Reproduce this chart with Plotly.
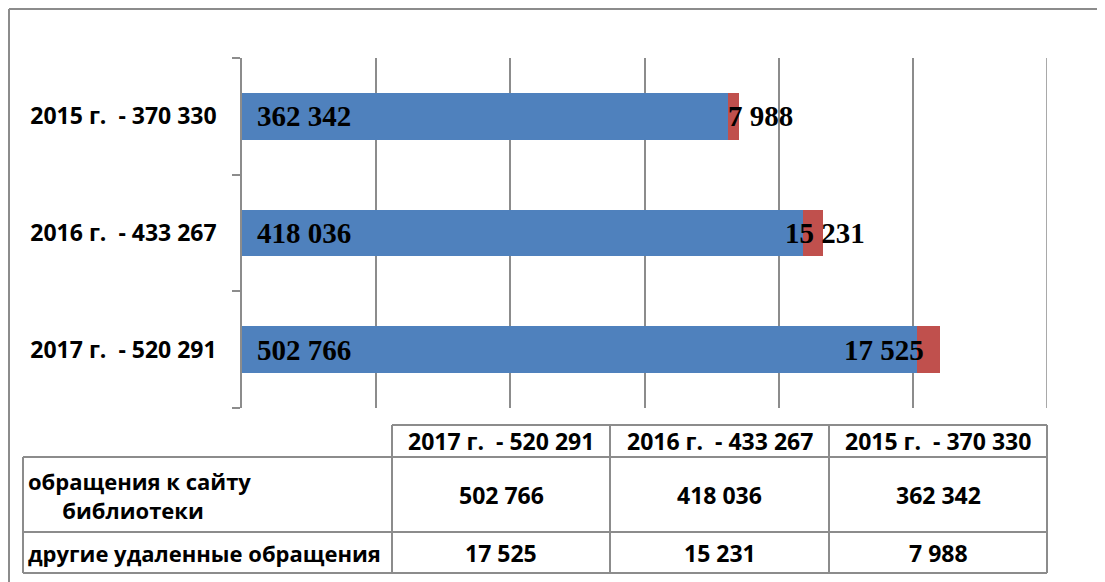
import plotly.graph_objects as go

# data
years = ["2017 г.  - 520 291", "2016 г.  - 433 267", "2015 г.  - 370 330"]
site_visits = [502766, 418036, 362342]
other_remote = [17525, 15231, 7988]
x_max = 600000

BLUE = "#4F81BD"
RED = "#C0504D"
GRID = "#8c8c8c"

# page body has an 8px margin, so the figure is a bit smaller than the window
OFF = 8
W, H = 1105 - OFF, 582 - OFF
L, R, T, B = 242, 1047, 58, 408  # plot area in window pixels


def fmt(v):
    return f"{v:,}".replace(",", " ")


def px(x):
    return (x - L) / (R - L)


def py(y):
    return (B - y) / (B - T)


fig = go.Figure()
fig.add_trace(go.Bar(y=years, x=site_visits, orientation="h", marker_color=BLUE,
                     marker_line_width=0, name="обращения к сайту библиотеки"))
fig.add_trace(go.Bar(y=years, x=other_remote, orientation="h", marker_color=RED,
                     marker_line_width=0, name="другие удаленные обращения"))

label_font = dict(family="Liberation Serif", size=29, color="black")
red_shift = [-75, -20, -2]
for i, yr in enumerate(years):
    fig.add_annotation(x=0, y=yr, text=f"<b>{fmt(site_visits[i])}</b>", showarrow=False,
                       xanchor="left", xshift=13, font=label_font)
    fig.add_annotation(x=site_visits[i], y=yr, text=f"<b>{fmt(other_remote[i])}</b>",
                       showarrow=False, xanchor="left", xshift=red_shift[i], font=label_font)

# last gridline at the right edge of the range
fig.add_shape(type="line", xref="x", yref="paper", x0=x_max, x1=x_max, y0=0, y1=1,
              line=dict(color=GRID, width=1.5))

# outer frame (top and left edges only are visible)
frame = dict(color=GRID, width=2)
fig.add_shape(type="line", xref="paper", yref="paper", x0=px(9), x1=px(1200), y0=py(9), y1=py(9), line=frame)
fig.add_shape(type="line", xref="paper", yref="paper", x0=px(9), x1=px(9), y0=py(9), y1=py(700), line=frame)

# data table
tline = dict(color=GRID, width=2)
cols = [392, 610, 829, 1047]
rows = [425, 457, 532, 573]
fig.add_shape(type="line", xref="paper", yref="paper", x0=px(392), x1=px(1047), y0=py(425), y1=py(425), line=tline)
for yy in rows[1:]:
    fig.add_shape(type="line", xref="paper", yref="paper", x0=px(23), x1=px(1047), y0=py(yy), y1=py(yy), line=tline)
fig.add_shape(type="line", xref="paper", yref="paper", x0=px(23), x1=px(23), y0=py(457), y1=py(573), line=tline)
for xx in cols:
    fig.add_shape(type="line", xref="paper", yref="paper", x0=px(xx), x1=px(xx), y0=py(425), y1=py(573), line=tline)

tfont = dict(family="Open Sans", size=23, color="black")
rfont = dict(family="Open Sans", size=22, color="black")
for j, yr in enumerate(years):
    cx = (cols[j] + cols[j + 1]) / 2
    fig.add_annotation(xref="paper", yref="paper", x=px(cx), y=py(441), xanchor="center", yanchor="middle",
                       text=f"<b>{yr}</b>", showarrow=False, font=tfont)
    fig.add_annotation(xref="paper", yref="paper", x=px(cx), y=py(495), xanchor="center", yanchor="middle",
                       text=f"<b>{fmt(site_visits[j])}</b>", showarrow=False, font=tfont)
    fig.add_annotation(xref="paper", yref="paper", x=px(cx), y=py(553), xanchor="center", yanchor="middle",
                       text=f"<b>{fmt(other_remote[j])}</b>", showarrow=False, font=tfont)
fig.add_annotation(xref="paper", yref="paper", x=px(26), y=py(495), xanchor="left", yanchor="middle",
                   align="left", text="<b>обращения к сайту</b><br><b>      библиотеки</b>",
                   showarrow=False, font=rfont)
fig.add_annotation(xref="paper", yref="paper", x=px(26), y=py(553), xanchor="left", yanchor="middle",
                   text="<b>другие удаленные обращения</b>", showarrow=False, font=rfont)

fig.update_layout(
    width=W, height=H, barmode="stack", bargap=0.6, showlegend=False,
    plot_bgcolor="white", paper_bgcolor="white",
    margin=dict(l=L - OFF, r=W - (R - OFF), t=T - OFF, b=H - (B - OFF)),
    font=dict(family="Open Sans", color="black"),
)
fig.update_xaxes(range=[0, x_max], dtick=100000, showgrid=True, gridcolor=GRID, gridwidth=1.5,
                 showticklabels=False, zeroline=False, showline=False, ticks="")
fig.update_yaxes(showline=True, linecolor=GRID, linewidth=1.5, ticks="outside", ticklen=8,
                 tickcolor=GRID, tickwidth=1.5, tickson="boundaries", showgrid=False,
                 ticklabelstandoff=19, tickfont=dict(family="Open Sans", size=23, color="black"),
                 tickprefix="<b>", ticksuffix="</b>")

fig.write_html("out.html")
